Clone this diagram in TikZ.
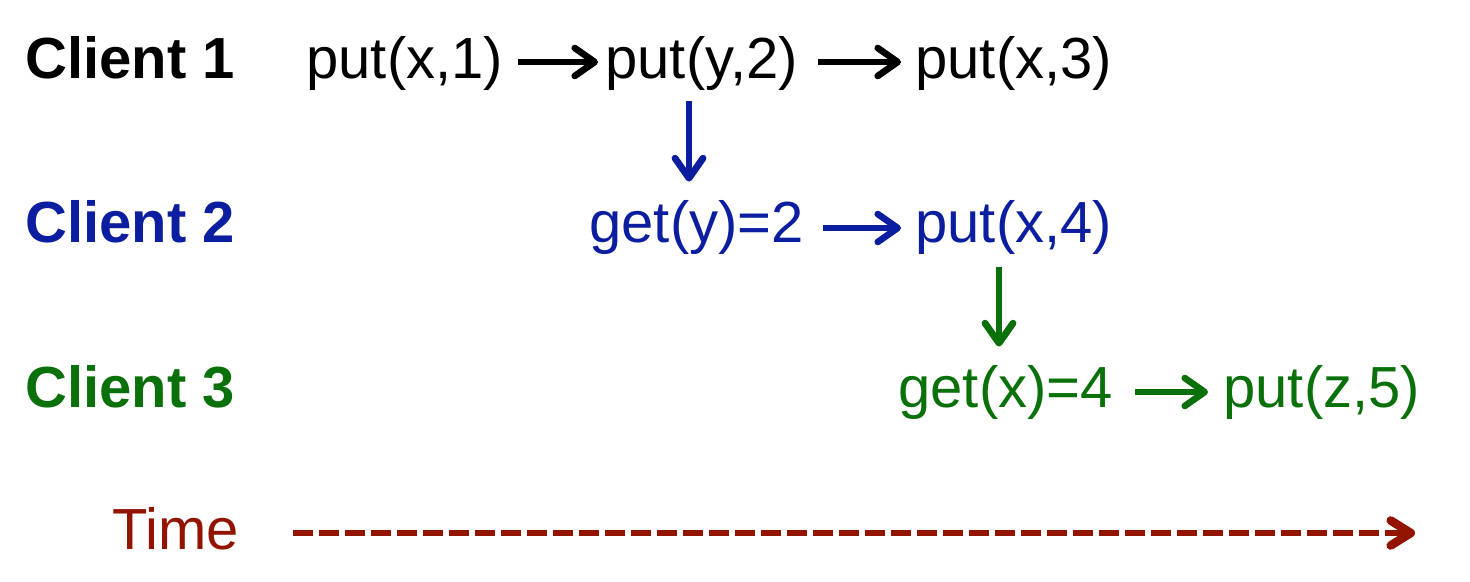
\documentclass[tikz,border=0pt]{standalone}
\usepackage{fontspec}
\setmainfont{Liberation Sans}
\usetikzlibrary{arrows.meta}
\definecolor{cblue}{RGB}{12,30,160}
\definecolor{cgreen}{RGB}{10,112,10}
\definecolor{cred}{RGB}{146,20,0}
\begin{document}
\begin{tikzpicture}[x=0.5pt,y=-0.5pt,
  lbl/.style={anchor=base west, inner sep=0pt, font=\fontsize{29}{34}\selectfont\bfseries},
  op/.style={anchor=base west, inner sep=0pt, font=\fontsize{29}{34}\selectfont},
  harr/.style={line width=2.6pt, -{Straight Barb[length=10pt,width=14pt,line width=3.3pt,round]}},
  varr/.style={line width=2.8pt, -{Straight Barb[length=10pt,width=14pt,line width=3.4pt,round]}},
  tarr/.style={line width=3pt, dash pattern=on 10pt off 3pt,
    -{Straight Barb[length=10pt,width=12.5pt,line width=4.3pt,round]}},
]
\useasboundingbox (0,0) rectangle (1470,582);

% labels
\node[lbl] (c1) at (25,79) {Client 1};
\node[lbl, text=cblue] (c2) at (25,243) {Client 2};
\node[lbl, text=cgreen] (c3) at (25,407) {Client 3};
\node[op, text=cred] (time) at (112,549) {Time};

% row 1
\node[op] (px1) at (306,79) {put(x,1)};
\node[op] (py2) at (605,79) {put(y,2)};
\node[op] (px3) at (915,79) {put(x,3)};

% row 2
\node[op, text=cblue] (gy2) at (589,243) {get(y)=2};
\node[op, text=cblue] (px4) at (915,243) {put(x,4)};

% row 3
\node[op, text=cgreen] (gx4) at (898,407) {get(x)=4};
\node[op, text=cgreen] (pz5) at (1223,407) {put(z,5)};

% horizontal arrows
\draw[harr, shorten <=7.5pt, shorten >=3.5pt] ([yshift=1pt]px1.east) -- ([yshift=1pt]py2.west);
\draw[harr, shorten <=10pt, shorten >=7pt] ([yshift=1pt]py2.east) -- ([yshift=1pt]px3.west);
\draw[harr, draw=cblue, shorten <=9.5pt, shorten >=7pt] (gy2.east) -- (px4.west);
\draw[harr, draw=cgreen, shorten <=11pt, shorten >=7.5pt] (gx4.east) -- (pz5.west);

% vertical arrows
\draw[varr, draw=cblue, shorten <=5pt, shorten >=9.5pt]
  ([xshift=42pt]py2.south west) -- ([xshift=42pt]py2.south west |- gy2.north);
\draw[varr, draw=cgreen, shorten <=6pt, shorten >=9pt]
  ([xshift=42pt]px4.south west) -- ([xshift=42pt]px4.south west |- gx4.north);

% time axis
\coordinate (tend) at (1415,533);
\draw[tarr, draw=cred, shorten <=26.5pt] (time.east |- tend) -- (tend);
\end{tikzpicture}
\end{document}
